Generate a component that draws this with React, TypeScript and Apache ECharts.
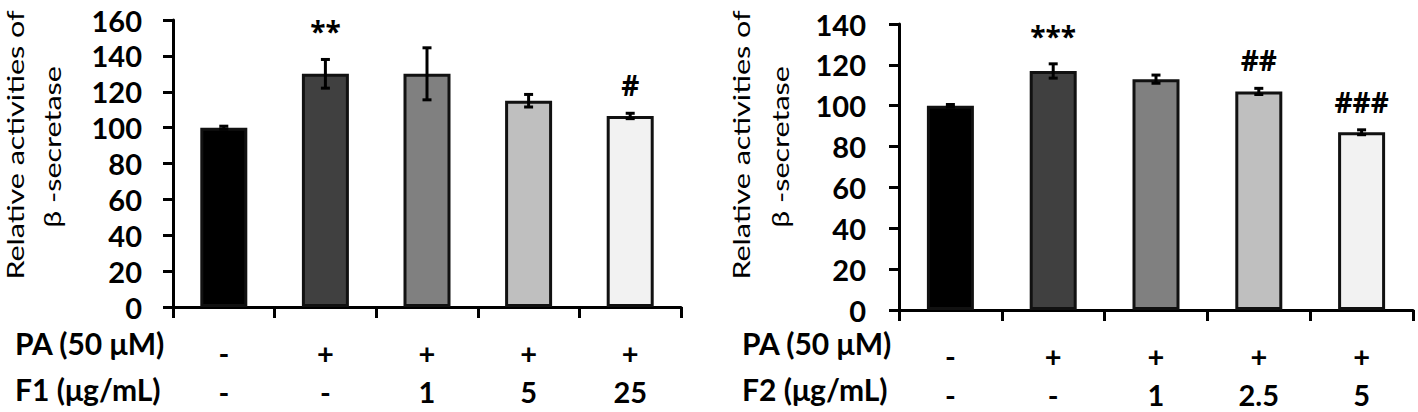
import React, { useEffect, useRef } from 'react';
import * as echarts from 'echarts';

const FONT = "Lato, 'Open Sans', 'Liberation Sans', sans-serif";
const MARK_FONT = "'Open Sans', 'Liberation Sans', sans-serif";

// Row labels under the x axis
const PA_ROW = ['-', '+', '+', '+', '+'];
const F1_ROW = ['-', '-', '1', '5', '25'];
const F2_ROW = ['-', '-', '1', '2.5', '5'];

// Left panel (F1)
const F1_VALUES = [100, 130, 130, 115, 106.5];
const F1_ERRORS = [0.8, 8, 14.5, 3.5, 1.5];
const F1_MARKS = ['', '**', '', '', '#'];

// Right panel (F2)
const F2_VALUES = [100, 117, 113, 107, 87];
const F2_ERRORS = [0.6, 3.5, 2, 1.5, 1.2];
const F2_MARKS = ['', '***', '', '##', '###'];

const BAR_COLORS = ['#000000', '#404040', '#808080', '#bfbfbf', '#f2f2f2'];
const Y_MAX_LEFT = 160;
const Y_MAX_RIGHT = 140;
const Y_INTERVAL = 20;

const TITLE_LINE1 = 'Relative activities of';
const TITLE_LINE2 = 'β -secretase';

const BOLD_SIZE = 29;

function makeErrorRender(marks: string[]) {
  return (params: any, api: any) => {
    const i = api.value(0);
    const lo = api.value(1);
    const hi = api.value(2);
    const top = api.coord([i, hi]);
    const bot = api.coord([i, lo]);
    const cap = 4.5;
    const style = { stroke: '#000', lineWidth: 3 };
    const children: any[] = [
      { type: 'line', shape: { x1: top[0], y1: top[1], x2: bot[0], y2: bot[1] }, style },
      { type: 'line', shape: { x1: top[0] - cap, y1: top[1], x2: top[0] + cap, y2: top[1] }, style },
      { type: 'line', shape: { x1: bot[0] - cap, y1: bot[1], x2: bot[0] + cap, y2: bot[1] }, style },
    ];
    const mark = marks[params.dataIndex];
    if (mark) {
      children.push({
        type: 'text',
        x: top[0],
        y: top[1] - 28,
        style: {
          text: mark,
          fill: '#000',
          fontSize: 28,
          fontWeight: 'bold',
          fontFamily: MARK_FONT,
          lineHeight: 28,
          textAlign: 'center',
          textVerticalAlign: 'middle',
          align: 'center',
          verticalAlign: 'middle',
        },
      });
    }
    return { type: 'group', children };
  };
}

function xAxisCfg(gridIndex: number, rowB: string[]) {
  return {
    type: 'category',
    gridIndex,
    data: PA_ROW.map((p, i) => `${p}\n${rowB[i]}`),
    axisLine: { show: true, lineStyle: { color: '#000', width: 3 } },
    axisTick: { show: true, length: 11, lineStyle: { color: '#000', width: 3 } },
    axisLabel: {
      interval: 0,
      margin: 26,
      color: '#000',
      fontSize: BOLD_SIZE,
      fontWeight: 'bold',
      fontFamily: FONT,
      lineHeight: 39,
    },
    splitLine: { show: false },
  };
}

function yAxisCfg(gridIndex: number, max: number, margin: number) {
  return {
    type: 'value',
    gridIndex,
    min: 0,
    max,
    interval: Y_INTERVAL,
    axisLine: { show: true, lineStyle: { color: '#000', width: 3 } },
    axisTick: { show: true, length: 10, lineStyle: { color: '#000', width: 3 } },
    axisLabel: {
      margin,
      color: '#000',
      fontSize: BOLD_SIZE,
      fontWeight: 'bold',
      fontFamily: FONT,
      lineHeight: 28,
    },
    splitLine: { show: false },
  };
}

function barSeries(idx: number, values: number[]) {
  return {
    type: 'bar',
    xAxisIndex: idx,
    yAxisIndex: idx,
    barWidth: 47,
    data: values.map((v, i) => ({ value: v, itemStyle: { color: BAR_COLORS[i] } })),
    itemStyle: { borderColor: '#111', borderWidth: 3 },
    z: 2,
  };
}

function errSeries(idx: number, values: number[], errs: number[], marks: string[]) {
  return {
    type: 'custom',
    xAxisIndex: idx,
    yAxisIndex: idx,
    dimensions: ['x', 'lo', 'hi'],
    encode: { x: 0, y: [1, 2] },
    data: values.map((v, i) => [i, v - errs[i], v + errs[i]]),
    renderItem: makeErrorRender(marks),
    clip: false,
    z: 5,
  };
}

function titleText(x: number, y: number, text: string) {
  return {
    type: 'text',
    x,
    y,
    rotation: Math.PI / 2,
    scaleX: 1.27,
    style: {
      text,
      fill: '#000',
      fontSize: 24,
      fontFamily: FONT,
      lineHeight: 24,
      textAlign: 'center',
      textVerticalAlign: 'middle',
    },
  };
}

function rowLabel(x: number, y: number, text: string) {
  return {
    type: 'text',
    x,
    y,
    style: {
      text,
      fill: '#000',
      fontSize: 30,
      fontWeight: 'bold',
      fontFamily: FONT,
      lineHeight: 28,
      textAlign: 'left',
      textVerticalAlign: 'middle',
    },
  };
}

export default function App() {
  const ref = useRef<HTMLDivElement>(null);
  useEffect(() => {
    const chart = echarts.init(ref.current!, null, { renderer: 'svg' });
    const option: any = {
      animation: false,
      backgroundColor: '#fff',
      grid: [
        { left: 173, top: 20, width: 508, height: 287, containLabel: false, outerBoundsMode: 'none' },
        { left: 899, top: 24, width: 514, height: 286, containLabel: false, outerBoundsMode: 'none' },
      ],
      xAxis: [xAxisCfg(0, F1_ROW), xAxisCfg(1, F2_ROW)],
      yAxis: [yAxisCfg(0, Y_MAX_LEFT, 31), yAxisCfg(1, Y_MAX_RIGHT, 33)],
      series: [
        barSeries(0, F1_VALUES),
        errSeries(0, F1_VALUES, F1_ERRORS, F1_MARKS),
        barSeries(1, F2_VALUES),
        errSeries(1, F2_VALUES, F2_ERRORS, F2_MARKS),
      ],
      graphic: [
        titleText(15, 145, TITLE_LINE1),
        titleText(52, 147, TITLE_LINE2),
        titleText(741, 145, TITLE_LINE1),
        titleText(780, 147, TITLE_LINE2),
        rowLabel(15, 343, 'PA (50 μM)'),
        rowLabel(15, 389, 'F1 (μg/mL)'),
        rowLabel(742, 343, 'PA (50 μM)'),
        rowLabel(742, 389, 'F2 (μg/mL)'),
      ],
    };
    chart.setOption(option);
    return () => chart.dispose();
  }, []);
  return (
    <div
      ref={ref}
      style={{ position: 'absolute', left: 0, top: 0, width: 1418, height: 412, background: '#fff' }}
    />
  );
}
